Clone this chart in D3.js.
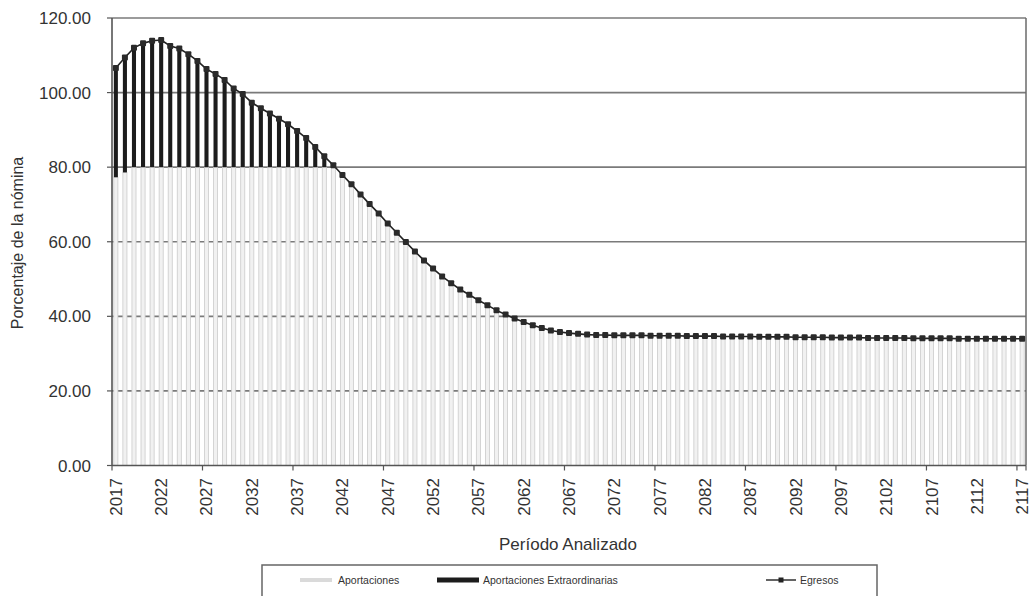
<!DOCTYPE html>
<html>
<head>
<meta charset="utf-8">
<script src="https://cdn.jsdelivr.net/npm/d3@7"></script>
<style>
  html, body { margin: 0; padding: 0; background: #fff; }
  svg { display: block; font-family: "Liberation Sans", Arial, sans-serif; }
</style>
</head>
<body>
<svg id="chart" width="1031" height="596"></svg>
<script>
// Years of the projection
const years = d3.range(2017, 2118);

// Egresos (% de la nómina)
const egresos = [
  106.6, 109.4, 112.0, 113.2, 113.9, 114.1, 112.5, 111.8, 110.3, 108.5,
  106.3, 105.0, 103.4, 101.1, 99.6, 97.3, 95.8, 94.4, 93.0, 91.5,
  89.7, 87.8, 85.4, 82.9, 80.5, 77.9, 75.4, 72.7, 70.1, 67.6,
  64.9, 62.4, 59.9, 57.4, 55.0, 52.8, 50.7, 48.9, 47.2, 45.8,
  44.3, 43.0, 41.6, 40.5, 39.4, 38.5, 37.6, 36.9, 36.2, 35.8,
  35.5, 35.3, 35.1, 35.0, 35.0, 34.9, 34.9, 34.9, 34.9, 34.8,
  34.8, 34.8, 34.8, 34.7, 34.7, 34.7, 34.7, 34.6, 34.6, 34.6,
  34.6, 34.5, 34.5, 34.5, 34.5, 34.4, 34.4, 34.4, 34.4, 34.3,
  34.3, 34.3, 34.3, 34.2, 34.2, 34.2, 34.2, 34.2, 34.1, 34.1,
  34.1, 34.1, 34.1, 34.0, 34.0, 34.0, 34.0, 34.0, 34.0, 34.0,
  34.0
];

// Aportaciones (% de la nómina)
const aportaciones = [
  77.3, 78.6, 80.0, 80.0, 80.0, 80.0, 80.0, 80.0, 80.0, 80.0,
  80.0, 80.0, 80.0, 80.0, 80.0, 80.0, 80.0, 80.0, 80.0, 80.0,
  80.0, 80.0, 80.0, 80.0, 80.0, 77.9, 75.4, 72.7, 70.1, 67.6,
  64.9, 62.4, 59.9, 57.4, 55.0, 52.8, 50.7, 48.9, 47.2, 45.8,
  44.3, 43.0, 41.6, 40.5, 39.4, 38.5, 37.6, 36.9, 36.2, 35.8,
  35.5, 35.3, 35.1, 35.0, 35.0, 34.9, 34.9, 34.9, 34.9, 34.8,
  34.8, 34.8, 34.8, 34.7, 34.7, 34.7, 34.7, 34.6, 34.6, 34.6,
  34.6, 34.5, 34.5, 34.5, 34.5, 34.4, 34.4, 34.4, 34.4, 34.3,
  34.3, 34.3, 34.3, 34.2, 34.2, 34.2, 34.2, 34.2, 34.1, 34.1,
  34.1, 34.1, 34.1, 34.0, 34.0, 34.0, 34.0, 34.0, 34.0, 34.0,
  34.0
];

// Aportaciones Extraordinarias (stacked on top of Aportaciones)
const extraordinarias = [
  29.3, 30.8, 32.0, 33.2, 33.9, 34.1, 32.5, 31.8, 30.3, 28.5,
  26.3, 25.0, 23.4, 21.1, 19.6, 17.3, 15.8, 14.4, 13.0, 11.5,
  9.7, 7.8, 5.4, 2.9, 0.5
].concat(new Array(76).fill(0));

const yTicks = [0, 20, 40, 60, 80, 100, 120];
const xLabelYears = d3.range(2017, 2118, 5);
const xTickYears = d3.range(2017, 2118, 10);

const legendLabels = ["Aportaciones", "Aportaciones Extraordinarias", "Egresos"];

const svg = d3.select("#chart");
const margin = { left: 112, right: 1026, top: 18, bottom: 465.5 };

const x = d3.scaleBand()
  .domain(years)
  .range([margin.left, margin.right])
  .paddingInner(0.55)
  .paddingOuter(0.2);

const y = d3.scaleLinear()
  .domain([0, 120])
  .range([margin.bottom, margin.top]);

// Gridlines
svg.append("g")
  .selectAll("line")
  .data(yTicks.filter(d => d > 0))
  .join("line")
  .attr("x1", margin.left).attr("x2", margin.right)
  .attr("y1", d => y(d)).attr("y2", d => y(d))
  .attr("stroke", "#7a7a7a")
  .attr("stroke-width", 1.6);

// Plot border (right side)
svg.append("line")
  .attr("x1", margin.right).attr("x2", margin.right)
  .attr("y1", margin.top).attr("y2", margin.bottom)
  .attr("stroke", "#6a6a6a").attr("stroke-width", 1.5);

// Aportaciones bars
svg.append("g")
  .selectAll("rect")
  .data(years)
  .join("rect")
  .attr("x", (d) => x(d))
  .attr("width", x.bandwidth())
  .attr("y", (d, i) => y(aportaciones[i]))
  .attr("height", (d, i) => y(0) - y(aportaciones[i]))
  .attr("fill", "#f1f1f1")
  .attr("stroke", "#cbcbcb")
  .attr("stroke-width", 0.8);

// Aportaciones Extraordinarias bars
svg.append("g")
  .selectAll("rect")
  .data(years.filter((d, i) => extraordinarias[i] > 0))
  .join("rect")
  .attr("x", d => x(d))
  .attr("width", x.bandwidth())
  .attr("y", d => { const i = years.indexOf(d); return y(aportaciones[i] + extraordinarias[i]); })
  .attr("height", d => { const i = years.indexOf(d); return y(aportaciones[i]) - y(aportaciones[i] + extraordinarias[i]); })
  .attr("fill", "#1c1c1c");

// Egresos line
const cx = d => x(d) + x.bandwidth() / 2;
const line = d3.line()
  .x((d, i) => cx(years[i]))
  .y(d => y(d));

svg.append("path")
  .datum(egresos)
  .attr("d", line)
  .attr("fill", "none")
  .attr("stroke", "#222")
  .attr("stroke-width", 1.6);

svg.append("g")
  .selectAll("rect")
  .data(egresos)
  .join("rect")
  .attr("x", (d, i) => cx(years[i]) - 3)
  .attr("y", d => y(d) - 3)
  .attr("width", 6)
  .attr("height", 6)
  .attr("rx", 1)
  .attr("fill", "#2a2a2a");

// Axes lines
svg.append("line")
  .attr("x1", margin.left).attr("x2", margin.left)
  .attr("y1", margin.top).attr("y2", margin.bottom)
  .attr("stroke", "#555").attr("stroke-width", 1.6);
svg.append("line")
  .attr("x1", margin.left).attr("x2", margin.right)
  .attr("y1", margin.bottom).attr("y2", margin.bottom)
  .attr("stroke", "#555").attr("stroke-width", 1.6);

// Y axis ticks and labels
const yAxis = svg.append("g");
yAxis.selectAll("line")
  .data(yTicks)
  .join("line")
  .attr("x1", margin.left - 5).attr("x2", margin.left)
  .attr("y1", d => y(d)).attr("y2", d => y(d))
  .attr("stroke", "#555").attr("stroke-width", 1.2);
yAxis.selectAll("text")
  .data(yTicks)
  .join("text")
  .attr("x", 91)
  .attr("y", d => y(d) + 6)
  .attr("text-anchor", "end")
  .attr("font-size", 17)
  .attr("fill", "#333")
  .text(d => d.toFixed(2));

// X axis tick marks at category boundaries, every ten years
const catWidth = (margin.right - margin.left) / years.length;
svg.append("g")
  .selectAll("line")
  .data(xTickYears.concat([2118]))
  .join("line")
  .attr("x1", d => margin.left + (d - 2017) * catWidth)
  .attr("x2", d => margin.left + (d - 2017) * catWidth)
  .attr("y1", margin.bottom).attr("y2", margin.bottom + 5)
  .attr("stroke", "#555").attr("stroke-width", 1.2);

// X labels
svg.append("g")
  .selectAll("text")
  .data(xLabelYears)
  .join("text")
  .attr("transform", d => `translate(${cx(d) + 6},478) rotate(-90)`)
  .attr("text-anchor", "end")
  .attr("font-size", 17)
  .attr("fill", "#333")
  .text(d => d);

// Axis titles
svg.append("text")
  .attr("transform", "translate(23,243) rotate(-90)")
  .attr("text-anchor", "middle")
  .attr("font-size", 16)
  .attr("fill", "#333")
  .text("Porcentaje de la nómina");

svg.append("text")
  .attr("x", 568)
  .attr("y", 550)
  .attr("text-anchor", "middle")
  .attr("font-size", 17)
  .attr("fill", "#333")
  .text("Período Analizado");

// Legend
const lg = svg.append("g");
lg.append("rect")
  .attr("x", 262).attr("y", 565)
  .attr("width", 615).attr("height", 40)
  .attr("fill", "#fff")
  .attr("stroke", "#666").attr("stroke-width", 1.5);

lg.append("line")
  .attr("x1", 300).attr("x2", 332).attr("y1", 580).attr("y2", 580)
  .attr("stroke", "#dadada").attr("stroke-width", 4);
lg.append("text")
  .attr("x", 338).attr("y", 584)
  .attr("font-size", 10.5).attr("fill", "#333")
  .text(legendLabels[0]);

lg.append("rect")
  .attr("x", 437).attr("y", 577.5).attr("width", 42).attr("height", 5)
  .attr("fill", "#1c1c1c");
lg.append("text")
  .attr("x", 483).attr("y", 584)
  .attr("font-size", 10.5).attr("fill", "#333")
  .text(legendLabels[1]);

lg.append("line")
  .attr("x1", 766).attr("x2", 796).attr("y1", 580).attr("y2", 580)
  .attr("stroke", "#222").attr("stroke-width", 1.4);
lg.append("rect")
  .attr("x", 778.5).attr("y", 577.5).attr("width", 5).attr("height", 5)
  .attr("fill", "#222");
lg.append("text")
  .attr("x", 800).attr("y", 584)
  .attr("font-size", 10.5).attr("fill", "#333")
  .text(legendLabels[2]);
</script>
</body>
</html>
